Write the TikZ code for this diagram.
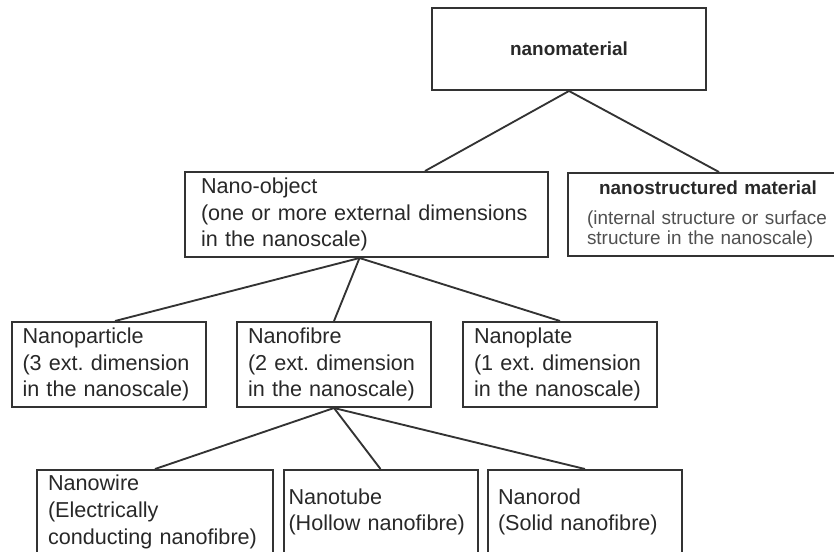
\documentclass[tikz,border=0pt]{standalone}
\usepackage{fontspec}
\setmainfont{Liberation Sans}
\usepackage{xcolor}
\definecolor{nmline}{RGB}{51,51,51}
\definecolor{nmtext}{RGB}{40,40,40}
\definecolor{nmgray}{RGB}{80,80,80}
\usetikzlibrary{positioning,calc}
\frenchspacing

\begin{document}
\begin{tikzpicture}[
  x=0.75pt, y=-0.75pt,
  tbox/.style={rectangle, draw=nmline, line width=1.5pt, inner ysep=0pt,
               align=left, text=nmtext, font=\fontsize{16.2}{20}\selectfont},
  hbox/.style={rectangle, draw=nmline, line width=1.5pt,
               minimum width=205.5pt, minimum height=61.5pt,
               font=\fontsize{14.2}{16}\selectfont\bfseries, text=nmtext},
  link/.style={draw=nmline, line width=1.4pt}
]
\useasboundingbox (0,0) rectangle (834,551);

% Top node
\node[hbox] (mat) at (569,49) {nanomaterial};

% Second level
\node[tbox, text width=248.25pt, inner xsep=12pt, minimum height=63.75pt] (obj) at (366.5,214.5)
  {Nano-object\\(one or more external dimensions\\in the nanoscale)};
\node[tbox, text width=181.5pt, inner xsep=14.25pt, minimum height=62.25pt,
      font=\fontsize{14.2}{15}\selectfont] (nsm) at (708,214.5)
  {{\centering\bfseries nanostructured material\par}\vspace{8pt}
   {\color{nmgray}(internal structure or surface\\structure in the nanoscale)}};

% Third level
\node[tbox, text width=129pt, inner xsep=8.25pt, minimum height=63.75pt] (np)  at (108.5,364.5)
  {Nanoparticle\\(3 ext. dimension\\in the nanoscale)};
\node[tbox, text width=129pt, inner xsep=8.25pt, minimum height=63.75pt] (nf)  at (334,364.5)
  {Nanofibre\\(2 ext. dimension\\in the nanoscale)};
\node[tbox, text width=129pt, inner xsep=8.25pt, minimum height=63.75pt] (npl) at (560,364.5)
  {Nanoplate\\(1 ext. dimension\\in the nanoscale)};

% Fourth level
\node[tbox, text width=160.5pt, inner xsep=8.25pt, minimum height=63pt] (nw) at (155,512)
  {Nanowire\\(Electrically\\conducting nanofibre)};
\node[tbox, text width=138pt, inner xsep=3.75pt, minimum height=63pt] (nt) at (380.5,512)
  {Nanotube\\(Hollow nanofibre)};
\node[tbox, text width=130.5pt, inner xsep=7.5pt, minimum height=63pt] (nr) at (585,512)
  {Nanorod\\(Solid nanofibre)};

% Links
\draw[link] (mat.south) -- ($(obj.north)+(58.5,0)$);
\draw[link] (mat.south) -- ($(nsm.north)+(11,0)$);
\draw[link] ($(obj.south)+(-7,0)$) -- ($(np.north)+(6.5,0)$);
\draw[link] ($(obj.south)+(-7,0)$) -- (nf.north);
\draw[link] ($(obj.south)+(-7,0)$) -- (npl.north);
\draw[link] (nf.south) -- (nw.north);
\draw[link] (nf.south) -- (nt.north);
\draw[link] (nf.south) -- (nr.north);
\end{tikzpicture}
\end{document}
